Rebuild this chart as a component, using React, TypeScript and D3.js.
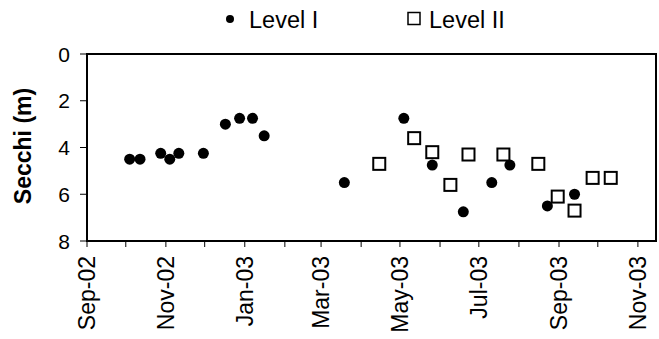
import React from "react";
import * as d3 from "d3";

const levelIDates = ["2002-10-04","2002-10-12","2002-10-28","2002-11-04","2002-11-11","2002-11-30","2002-12-17","2002-12-28","2003-01-07","2003-01-16","2003-03-19","2003-05-04","2003-05-26","2003-06-19","2003-07-11","2003-07-25","2003-08-23","2003-09-13"];
const levelIValues = [4.5,4.5,4.25,4.5,4.25,4.25,3.0,2.75,2.75,3.5,5.5,2.75,4.75,6.75,5.5,4.75,6.5,6.0];

const levelIIDates = ["2003-04-15","2003-05-12","2003-05-26","2003-06-09","2003-06-23","2003-07-20","2003-08-16","2003-08-31","2003-09-13","2003-09-27","2003-10-11"];
const levelIIValues = [4.7,3.6,4.2,5.6,4.3,4.3,4.7,6.1,6.7,5.3,5.3];

const yTicks = [0, 2, 4, 6, 8];
const xDomain = ["2002-09-01", "2003-11-15"];
const seriesNames = ["Level I", "Level II"];

const W = 659, H = 339;
const M = { left: 87, right: 656, top: 54, bottom: 241 };
const FONT = "Liberation Sans, Arial, sans-serif";

export default function App() {
  const parse = (s: string) => new Date(s + "T00:00:00Z");
  const x = d3.scaleUtc().domain(xDomain.map(parse)).range([M.left, M.right]);
  const y = d3.scaleLinear().domain([0, 8]).range([M.top, M.bottom]);
  const months = d3.utcMonth.range(parse("2002-09-01"), parse("2003-11-02"));
  const fmt = d3.utcFormat("%b-%y");
  const sq = 12;

  return (
    <div style={{ position: "absolute", left: 0, top: 0 }}>
      <svg width={W} height={H} style={{ display: "block", background: "#fff" }} fontFamily={FONT}>
        {/* legend */}
        <circle cx={230} cy={19} r={4} fill="#000" />
        <text x={249} y={28} fontSize={23.5}>{seriesNames[0]}</text>
        <rect x={408} y={12.5} width={12} height={12} fill="#fff" stroke="#000" strokeWidth={1.5} />
        <text x={429} y={28} fontSize={23.5}>{seriesNames[1]}</text>

        {/* y axis */}
        {yTicks.map((t) => (
          <g key={t}>
            <line x1={M.left - 7} x2={M.left} y1={y(t)} y2={y(t)} stroke="#000" strokeWidth={1} />
            <text x={70} y={y(t)} dy="0.36em" textAnchor="end" fontSize={21}>{t}</text>
          </g>
        ))}
        <text transform={`translate(31,${146}) rotate(-90)`} textAnchor="middle" fontSize={23} fontWeight="bold">Secchi (m)</text>

        {/* x axis */}
        {months.map((m, i) => (
          <g key={i}>
            <line x1={x(m)} x2={x(m)} y1={M.bottom} y2={M.bottom + 6} stroke="#000" strokeWidth={1} />
            {i % 2 === 0 && (
              <text transform={`translate(${x(m)},${256}) rotate(-90)`} textAnchor="end" dy="0.36em" fontSize={23}>{fmt(m)}</text>
            )}
          </g>
        ))}

        {/* frame */}
        <rect x={M.left} y={M.top} width={M.right - M.left} height={M.bottom - M.top} fill="none" stroke="#000" strokeWidth={2} />

        {/* data */}
        {levelIDates.map((d, i) => (
          <circle key={"a" + i} cx={x(parse(d))} cy={y(levelIValues[i])} r={5.5} fill="#000" />
        ))}
        {levelIIDates.map((d, i) => (
          <rect key={"b" + i} x={x(parse(d)) - sq / 2} y={y(levelIIValues[i]) - sq / 2} width={sq} height={sq} fill="#fff" stroke="#000" strokeWidth={2} />
        ))}
      </svg>
    </div>
  );
}
